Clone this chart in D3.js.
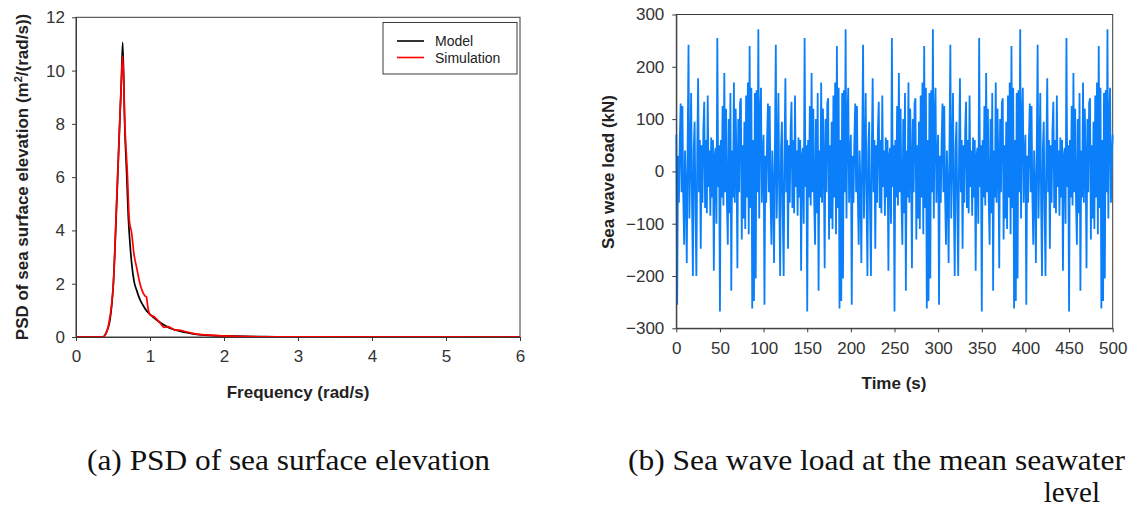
<!DOCTYPE html>
<html>
<head>
<meta charset="utf-8">
<script src="https://cdn.jsdelivr.net/npm/d3@7"></script>
<style>
  html, body { margin: 0; padding: 0; background: #fff; }
  svg { display: block; }
</style>
</head>
<body>
<svg id="chart" width="1129" height="509"></svg>
<script>
// ---------- Data: PSD of sea surface elevation ----------
const psdXTicks = [0, 1, 2, 3, 4, 5, 6];
const psdYTicks = [0, 2, 4, 6, 8, 10, 12];
const modelFreq = [0, 0.36, 0.40, 0.459, 0.505, 0.55, 0.586, 0.613, 0.631, 0.66, 0.685, 0.707, 0.73, 0.752, 0.784, 0.82, 0.865, 0.903, 0.955, 1.0, 1.1, 1.19, 1.27, 1.39, 1.5, 1.63, 1.8, 2.0, 2.3, 2.7, 3.5, 6.0];
const modelPSD  = [0, 0, 0.12, 0.64, 2.0, 5.0, 7.7, 9.6, 11.06, 7.8, 6.1, 4.5, 3.5, 2.77, 2.1, 1.75, 1.4, 1.2, 0.98, 0.85, 0.62, 0.45, 0.33, 0.23, 0.16, 0.10, 0.06, 0.04, 0.02, 0.01, 0.003, 0];
const simFreq = [0, 0.36, 0.40, 0.44, 0.48, 0.505, 0.55, 0.586, 0.613, 0.631, 0.66, 0.695, 0.72, 0.752, 0.784, 0.82, 0.865, 0.93, 0.952, 0.97, 1.0, 1.05, 1.1, 1.15, 1.19, 1.24, 1.29, 1.34, 1.39, 1.48, 1.63, 1.87, 2.1, 2.5, 3.0, 6.0];
const simPSD  = [0, 0, 0.1, 0.45, 1.2, 2.0, 5.2, 7.7, 9.6, 10.55, 8.0, 6.1, 4.4, 3.9, 3.1, 2.6, 2.0, 1.55, 1.5, 1.14, 0.83, 0.77, 0.64, 0.48, 0.36, 0.39, 0.33, 0.26, 0.26, 0.2, 0.11, 0.06, 0.03, 0.01, 0.005, 0];
const legendLabels = ["Model", "Simulation"];

// ---------- Data: sea wave load time history (1 s steps, 0..500 s) ----------
const loadXTicks = [0, 50, 100, 150, 200, 250, 300, 350, 400, 450, 500];
const loadYTicks = [-300, -200, -100, 0, 100, 200, 300];
const waveLoad = [
70,-255,30,-60,60,130,-40,125,-50,-140,40,-30,-175,50,242,-90,20,150,-60,-200,45,95,-80,-200,40,178,-40,60,-148,50,-60,80,133,-70,60,-80,145,-30,40,-85,65,-50,60,-190,30,45,-100,255,-30,50,-268,60,-50,125,-65,188,-40,120,-60,-140,100,-80,150,-228,40,-50,170,-60,120,20,-185,100,-40,130,140,-130,50,-90,95,-110,145,-50,170,-120,240,-70,160,-262,60,-248,150,-205,155,-40,272,-90,100,160,-60,30,
70,-255,30,-60,60,130,-40,125,-50,-140,40,-30,-175,50,242,-90,20,150,-60,-200,45,95,-80,-200,40,178,-40,60,-148,50,-60,80,133,-70,60,-80,145,-30,40,-85,65,-50,60,-190,30,45,-100,255,-30,50,-268,60,-50,125,-65,188,-40,120,-60,-140,100,-80,150,-228,40,-50,170,-60,120,20,-185,100,-40,130,140,-130,50,-90,95,-110,145,-50,170,-120,240,-70,160,-262,60,-248,150,-205,155,-40,272,-90,100,160,-60,30,
70,-255,30,-60,60,130,-40,125,-50,-140,40,-30,-175,50,242,-90,20,150,-60,-200,45,95,-80,-200,40,178,-40,60,-148,50,-60,80,133,-70,60,-80,145,-30,40,-85,65,-50,60,-190,30,45,-100,255,-30,50,-268,60,-50,125,-65,188,-40,120,-60,-140,100,-80,150,-228,40,-50,170,-60,120,20,-185,100,-40,130,140,-130,50,-90,95,-110,145,-50,170,-120,240,-70,160,-262,60,-248,150,-205,155,-40,272,-90,100,160,-60,30,
70,-255,30,-60,60,130,-40,125,-50,-140,40,-30,-175,50,242,-90,20,150,-60,-200,45,95,-80,-200,40,178,-40,60,-148,50,-60,80,133,-70,60,-80,145,-30,40,-85,65,-50,60,-190,30,45,-100,255,-30,50,-268,60,-50,125,-65,188,-40,120,-60,-140,100,-80,150,-228,40,-50,170,-60,120,20,-185,100,-40,130,140,-130,50,-90,95,-110,145,-50,170,-120,240,-70,160,-262,60,-248,150,-205,155,-40,272,-90,100,160,-60,30,
70,-255,30,-60,60,130,-40,125,-50,-140,40,-30,-175,50,242,-90,20,150,-60,-200,45,95,-80,-200,40,178,-40,60,-148,50,-60,80,133,-70,60,-80,145,-30,40,-85,65,-50,60,-190,30,45,-100,255,-30,50,-268,60,-50,125,-65,188,-40,120,-60,-140,100,-80,150,-228,40,-50,170,-60,120,20,-185,100,-40,130,140,-130,50,-90,95,-110,145,-50,170,-120,240,-70,160,-262,60,-248,150,-205,155,-40,272,-90,100,160,-60,30,
70];
const loadTime = waveLoad.map((_, i) => i);

const captionA = "(a) PSD of sea surface elevation";
const captionB1 = "(b) Sea wave load at the mean seawater";
const captionB2 = "level";

// ---------- Drawing ----------
const svg = d3.select("#chart");
svg.append("rect").attr("width", 1129).attr("height", 509).attr("fill", "#fff");
const sans = "'Liberation Sans', Arial, sans-serif";
const axisColor = "#3a3a3a";

function styleAxis(g) {
  g.select(".domain").attr("stroke", axisColor).attr("stroke-width", 1);
  g.selectAll(".tick line").attr("stroke", axisColor);
  g.selectAll(".tick text").attr("font-size", 17).attr("font-family", sans).attr("fill", "#333");
}

// ----- Left chart -----
const xL = d3.scaleLinear().domain([0, 6]).range([76, 520]);
const yL = d3.scaleLinear().domain([0, 12]).range([337, 17.3]);

svg.append("rect").attr("x", 76).attr("y", 17.3).attr("width", 444).attr("height", 319.7)
  .attr("fill", "none").attr("stroke", axisColor).attr("stroke-width", 1);

const lineL = (xs, ys) => d3.line().curve(d3.curveMonotoneX).x((d, i) => xL(xs[i])).y((d, i) => yL(ys[i]))(xs);
svg.append("path").attr("d", lineL(modelFreq, modelPSD)).attr("fill", "none")
  .attr("stroke", "#000").attr("stroke-width", 1.7);
svg.append("path").attr("d", lineL(simFreq, simPSD)).attr("fill", "none")
  .attr("stroke", "#ff0000").attr("stroke-width", 1.7);

svg.append("g").attr("transform", "translate(0,337)")
  .call(d3.axisBottom(xL).tickValues(psdXTicks).tickFormat(d3.format("d")).tickSize(4).tickPadding(9).tickSizeOuter(0))
  .call(styleAxis);
svg.append("g").attr("transform", "translate(76,0)")
  .call(d3.axisLeft(yL).tickValues(psdYTicks).tickFormat(d3.format("d")).tickSize(4).tickPadding(7).tickSizeOuter(0))
  .call(styleAxis);

svg.append("text").attr("x", 298).attr("y", 398).attr("text-anchor", "middle")
  .attr("font-family", sans).attr("font-weight", "bold").attr("font-size", 17).attr("fill", "#222")
  .text("Frequency (rad/s)");
const yt = svg.append("text").attr("transform", "translate(28,177) rotate(-90)").attr("text-anchor", "middle")
  .attr("font-family", sans).attr("font-weight", "bold").attr("font-size", 17).attr("fill", "#222");
yt.append("tspan").text("PSD of sea surface elevation (m");
yt.append("tspan").attr("baseline-shift", "super").attr("font-size", 11).text("2");
yt.append("tspan").text("/(rad/s))");

// legend
svg.append("rect").attr("x", 383).attr("y", 22.5).attr("width", 134).attr("height", 51.5)
  .attr("fill", "#fff").attr("stroke", axisColor).attr("stroke-width", 1);
const legColors = ["#000", "#ff0000"];
legendLabels.forEach((lab, i) => {
  const y = 41 + i * 16.5;
  svg.append("line").attr("x1", 397).attr("x2", 424).attr("y1", y).attr("y2", y)
    .attr("stroke", legColors[i]).attr("stroke-width", 1.6);
  svg.append("text").attr("x", 435).attr("y", y + 5).attr("font-family", sans)
    .attr("font-size", 14).attr("fill", "#222").text(lab);
});

// ----- Right chart -----
const xR = d3.scaleLinear().domain([0, 500]).range([676.3, 1112.7]);
const yR = d3.scaleLinear().domain([-300, 300]).range([328.3, 14.5]);

svg.append("rect").attr("x", 676.3).attr("y", 14.5).attr("width", 436.4).attr("height", 313.8)
  .attr("fill", "none").attr("stroke", axisColor).attr("stroke-width", 1);

svg.append("path")
  .attr("d", d3.line().x((d, i) => xR(loadTime[i])).y(d => yR(d))(waveLoad))
  .attr("fill", "none").attr("stroke", "#0a7ff9").attr("stroke-width", 1.8).attr("stroke-linejoin", "miter");

svg.append("g").attr("transform", "translate(0,328.3)")
  .call(d3.axisBottom(xR).tickValues(loadXTicks).tickFormat(d3.format("d")).tickSize(4).tickPadding(10).tickSizeOuter(0))
  .call(styleAxis);
svg.append("g").attr("transform", "translate(676.3,0)")
  .call(d3.axisLeft(yR).tickValues(loadYTicks).tickFormat(d3.format("d")).tickSize(4).tickPadding(8).tickSizeOuter(0))
  .call(styleAxis);

svg.append("text").attr("x", 894).attr("y", 389).attr("text-anchor", "middle")
  .attr("font-family", sans).attr("font-weight", "bold").attr("font-size", 17).attr("fill", "#222")
  .text("Time (s)");
svg.append("text").attr("transform", "translate(614,172) rotate(-90)").attr("text-anchor", "middle")
  .attr("font-family", sans).attr("font-weight", "bold").attr("font-size", 17).attr("fill", "#222")
  .text("Sea wave load (kN)");

// ----- Captions -----
const serif = "'Liberation Serif', 'Times New Roman', serif";
svg.append("text").attr("x", 87).attr("y", 470)
  .attr("textLength", 403).attr("lengthAdjust", "spacingAndGlyphs")
  .attr("font-family", serif).attr("font-size", 29).attr("fill", "#111").text(captionA);
svg.append("text").attr("x", 628).attr("y", 470)
  .attr("textLength", 497).attr("lengthAdjust", "spacingAndGlyphs")
  .attr("font-family", serif).attr("font-size", 29).attr("fill", "#111").text(captionB1);
svg.append("text").attr("x", 1100).attr("y", 502).attr("text-anchor", "end")
  .attr("font-family", serif).attr("font-size", 29).attr("fill", "#111").text(captionB2);
</script>
</body>
</html>
